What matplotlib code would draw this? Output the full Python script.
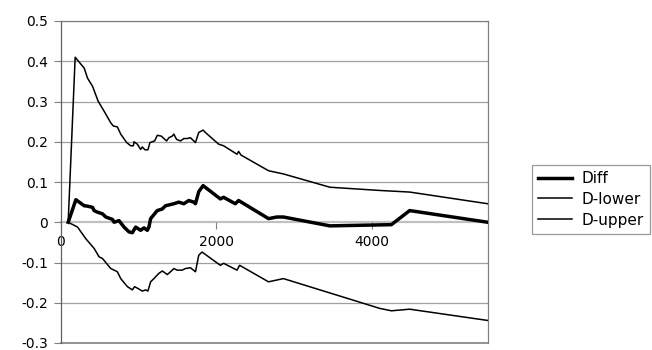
import matplotlib.pyplot as plt

plt.rcParams['font.family'] = ['DejaVu Sans']

# series
diff_x = [97, 196, 239, 303, 346, 410, 431, 474, 538, 581, 667, 688, 751, 816, 880, 923,
          965, 1029, 1072, 1115, 1136, 1158, 1243, 1308, 1350, 1457, 1520, 1585, 1649, 1713,
          1735, 1777, 1833, 2055, 2097, 2247, 2290, 2675, 2782, 2867, 3465, 4256, 4491, 5495]
diff_y = [0, 0.056, 0.050, 0.041, 0.040, 0.037, 0.029, 0.025, 0.021, 0.013, 0.007, 0.0,
          0.004, -0.012, -0.024, -0.026, -0.012, -0.020, -0.014, -0.020, -0.012, 0.009,
          0.029, 0.033, 0.041, 0.046, 0.050, 0.046, 0.054, 0.050, 0.046, 0.076, 0.091,
          0.058, 0.062, 0.046, 0.054, 0.009, 0.013, 0.013, -0.009, -0.006, 0.029, 0.0]

lower_x = [97, 218, 324, 431, 495, 538, 645, 730, 773, 859, 923, 952, 1008, 1051, 1094,
           1123, 1158, 1200, 1264, 1308, 1372, 1414, 1457, 1500, 1564, 1606, 1670, 1735,
           1777, 1820, 1905, 2055, 2097, 2269, 2303, 2675, 2867, 4106, 4256, 4491, 5495]
lower_y = [0, -0.012, -0.041, -0.065, -0.086, -0.090, -0.115, -0.123, -0.140, -0.160,
           -0.168, -0.160, -0.166, -0.171, -0.168, -0.171, -0.148, -0.140, -0.127, -0.121,
           -0.130, -0.123, -0.115, -0.119, -0.119, -0.115, -0.113, -0.123, -0.082, -0.074,
           -0.086, -0.107, -0.102, -0.119, -0.107, -0.148, -0.140, -0.214, -0.220, -0.216,
           -0.244]

upper_x = [97, 187, 251, 303, 346, 410, 482, 559, 645, 679, 730, 773, 850, 901, 936, 944,
           987, 1029, 1051, 1085, 1123, 1149, 1209, 1244, 1295, 1363, 1393, 1436, 1457, 1491,
           1543, 1585, 1628, 1670, 1735, 1777, 1833, 1863, 2033, 2097, 2269, 2290, 2320,
           2675, 2867, 3465, 4106, 4491, 5495]
upper_y = [0, 0.410, 0.395, 0.383, 0.358, 0.338, 0.301, 0.276, 0.247, 0.239, 0.237, 0.219,
           0.198, 0.190, 0.190, 0.200, 0.194, 0.181, 0.187, 0.180, 0.180, 0.198, 0.202,
           0.216, 0.214, 0.202, 0.210, 0.214, 0.219, 0.206, 0.202, 0.208, 0.208, 0.210,
           0.198, 0.223, 0.229, 0.223, 0.194, 0.190, 0.169, 0.176, 0.167, 0.128, 0.120,
           0.087, 0.079, 0.075, 0.046]

x_ticks = [0, 2000, 4000]
y_ticks = [-0.3, -0.2, -0.1, 0, 0.1, 0.2, 0.3, 0.4, 0.5]
y_labels = ['-0.3', '-0.2', '-0.1', '0', '0.1', '0.2', '0.3', '0.4', '0.5']

fig = plt.figure(figsize=(6.52, 3.5), dpi=100)
ax = fig.add_axes([0.093, 0.02, 0.655, 0.92])

grid_c = '#a0a0a0'
for t in y_ticks:
    if t != 0:
        ax.axhline(t, color=grid_c, lw=0.9, zorder=0)

ax.plot(diff_x, diff_y, color='black', lw=2.5, label='Diff', zorder=3)
ax.plot(lower_x, lower_y, color='black', lw=1.1, label='D-lower', zorder=3)
ax.plot(upper_x, upper_y, color='black', lw=1.1, label='D-upper', zorder=3)

ax.set_xlim(0, 5495)
ax.set_ylim(-0.3, 0.5)

# x axis crosses at zero
ax.spines['bottom'].set_position(('data', 0))
ax.spines['bottom'].set_color('#c0c0c0')
ax.spines['bottom'].set_linewidth(1.6)
ax.spines['bottom'].set_zorder(1)
for s in ['top', 'right']:
    ax.spines[s].set_color('#808080')
    ax.spines[s].set_linewidth(0.9)
ax.spines['left'].set_color('#606060')
ax.spines['left'].set_linewidth(0.9)
ax.axhline(-0.3, color='#808080', lw=1.2, clip_on=False, zorder=1)

ax.set_xticks(x_ticks)
ax.set_xticklabels([str(v) for v in x_ticks])
ax.set_yticks(y_ticks)
ax.set_yticklabels(y_labels)
ax.tick_params(axis='x', direction='out', length=5, color='#808080', labelsize=10, pad=4)
ax.tick_params(axis='y', direction='out', length=5, color='#808080', labelsize=10, pad=4)

leg = fig.legend(loc='upper left', bbox_to_anchor=(0.816, 0.529), fontsize=11,
                 frameon=True, fancybox=False, handlelength=2.2, handletextpad=0.65,
                 labelspacing=0.38, borderpad=0.4, borderaxespad=0)
leg.get_frame().set_edgecolor('#808080')
leg.get_frame().set_linewidth(0.9)

fig.savefig('out.png', dpi=100)
